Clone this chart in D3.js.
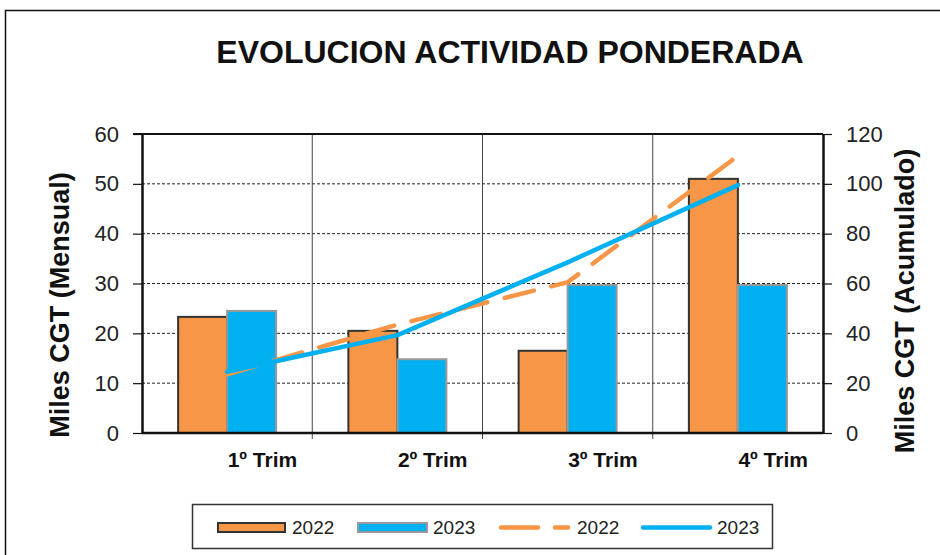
<!DOCTYPE html>
<html lang="es">
<head>
<meta charset="UTF-8">
<title>Evolucion actividad ponderada</title>
<script src="https://cdn.jsdelivr.net/npm/d3@7"></script>
<style>
    body { margin: 0; background: #fff; font-family: "Liberation Sans", Arial, sans-serif; }
    svg { display: block; }
</style>
</head>
<body>
<div id="chart"></div>
<script>
    // values
    const categories = ["1º Trim", "2º Trim", "3º Trim", "4º Trim"];
    const series = ["2022", "2023"];
    const mensual2022 = [23.3, 20.5, 16.5, 51.0];
    const mensual2023 = [24.5, 14.8, 29.7, 29.7];
    const acumulado2022 = [23.5, 43.5, 60.5, 111.2];
    const acumulado2023 = [24.6, 39.3, 68.5, 99.5];
    const leftTicks = [0, 10, 20, 30, 40, 50, 60];
    const rightTicks = [0, 20, 40, 60, 80, 100, 120];

    const W = 940, H = 555;
    const plot = { left: 142, right: 823, top: 134, bottom: 433 };
    const orange = "#F79646", blue = "#00B0F0";

    const svg = d3.select("#chart").append("svg")
        .attr("width", W).attr("height", H);

    // outer frame
    svg.append("rect")
        .attr("x", 5.5).attr("y", 10.5)
        .attr("width", 1000).attr("height", 700)
        .attr("fill", "#fff").attr("stroke", "#111").attr("stroke-width", 1.5);

    svg.append("text")
        .attr("x", 510).attr("y", 63)
        .attr("text-anchor", "middle")
        .attr("font-size", 32).attr("font-weight", "bold").attr("fill", "#111")
        .text("EVOLUCION ACTIVIDAD PONDERADA");

    const x = d3.scaleBand().domain(categories).range([plot.left, plot.right]);
    const barW = 49;
    const x1 = d3.scaleBand().domain(series)
        .range([x.bandwidth() / 2 - barW, x.bandwidth() / 2 + barW]);
    const yL = d3.scaleLinear().domain([0, 60]).range([plot.bottom, plot.top]);
    const yR = d3.scaleLinear().domain([0, 120]).range([plot.bottom, plot.top]);

    // horizontal dashed gridlines
    svg.append("g").selectAll("line")
        .data(leftTicks.filter(d => d > 0 && d < 60))
        .join("line")
        .attr("x1", plot.left).attr("x2", plot.right)
        .attr("y1", d => yL(d)).attr("y2", d => yL(d))
        .attr("stroke", "#222").attr("stroke-width", 1)
        .attr("stroke-dasharray", "3,2");

    // vertical category separators (extend below axis as ticks)
    svg.append("g").selectAll("line")
        .data(categories.slice(1))
        .join("line")
        .attr("x1", d => x(d)).attr("x2", d => x(d))
        .attr("y1", plot.top).attr("y2", plot.bottom + 6)
        .attr("stroke", "#444").attr("stroke-width", 1);

    // bars
    const rows = categories.map((c, i) => ({ cat: c, vals: [mensual2022[i], mensual2023[i]] }));
    svg.append("g").selectAll("g")
        .data(rows)
        .join("g")
        .attr("transform", d => `translate(${x(d.cat)},0)`)
        .selectAll("rect")
        .data(d => d.vals.map((v, j) => ({ key: series[j], v })))
        .join("rect")
        .attr("x", d => x1(d.key))
        .attr("width", x1.bandwidth())
        .attr("y", d => yL(d.v))
        .attr("height", d => yL(0) - yL(d.v))
        .attr("fill", d => d.key === "2022" ? orange : blue)
        .attr("stroke", d => d.key === "2022" ? "#333" : "#999")
        .attr("stroke-width", 2);

    // top border of plot
    svg.append("line")
        .attr("x1", plot.left - 9).attr("x2", plot.right)
        .attr("y1", plot.top).attr("y2", plot.top)
        .attr("stroke", "#111").attr("stroke-width", 2);

    // axes
    const axL = svg.append("g")
        .attr("transform", `translate(${plot.left},0)`)
        .call(d3.axisLeft(yL).tickValues(leftTicks).tickSize(9).tickSizeOuter(0).tickPadding(14));
    const axR = svg.append("g")
        .attr("transform", `translate(${plot.right},0)`)
        .call(d3.axisRight(yR).tickValues(rightTicks).tickSize(9).tickSizeOuter(0).tickPadding(14));
    [axL, axR].forEach(ax => {
        ax.select(".domain").attr("stroke", "#111").attr("stroke-width", 2.5);
        ax.selectAll(".tick line").attr("stroke", "#111").attr("stroke-width", 1.2);
        ax.selectAll(".tick text")
            .attr("font-family", "Liberation Sans, Arial, sans-serif")
            .attr("font-size", 22).attr("fill", "#222");
    });

    svg.append("line")
        .attr("x1", plot.left).attr("x2", plot.right)
        .attr("y1", plot.bottom).attr("y2", plot.bottom)
        .attr("stroke", "#111").attr("stroke-width", 2.5);

    // category labels
    svg.append("g").selectAll("text")
        .data(categories)
        .join("text")
        .attr("x", d => x(d) + x.bandwidth() / 2 + 0.5)
        .attr("y", 467)
        .attr("font-size", 21).attr("font-weight", "bold").attr("fill", "#111")
        .text(d => d);

    // axis titles
    svg.append("text")
        .attr("transform", "translate(69,305) rotate(-90)")
        .attr("text-anchor", "middle")
        .attr("font-size", 27).attr("font-weight", "bold").attr("fill", "#111")
        .text("Miles CGT (Mensual)");
    svg.append("text")
        .attr("transform", "translate(914,301) rotate(-90)")
        .attr("text-anchor", "middle")
        .attr("font-size", 27).attr("font-weight", "bold").attr("fill", "#111")
        .text("Miles CGT (Acumulado)");

    // cumulative lines
    const cx = c => x(c) + x.bandwidth() / 2;
    const line = d3.line().x(d => cx(d.cat)).y(d => yR(d.v));
    svg.append("path")
        .datum(categories.map((c, i) => ({ cat: c, v: acumulado2022[i] })))
        .attr("d", line)
        .attr("fill", "none").attr("stroke", orange).attr("stroke-width", 4.5)
        .attr("stroke-dasharray", "30,18").attr("stroke-linecap", "round");
    svg.append("path")
        .datum(categories.map((c, i) => ({ cat: c, v: acumulado2023[i] })))
        .attr("d", line)
        .attr("fill", "none").attr("stroke", blue).attr("stroke-width", 4.5)
        .attr("stroke-linecap", "round").attr("stroke-linejoin", "round");

    // legend
    const lg = svg.append("g");
    lg.append("rect")
        .attr("x", 192.5).attr("y", 504.5).attr("width", 580).attr("height", 44)
        .attr("fill", "#fff").attr("stroke", "#333").attr("stroke-width", 1.5);
    lg.append("rect").attr("x", 218).attr("y", 523).attr("width", 67).attr("height", 9)
        .attr("fill", orange).attr("stroke", "#333").attr("stroke-width", 2);
    lg.append("rect").attr("x", 358).attr("y", 523).attr("width", 69).attr("height", 9)
        .attr("fill", blue).attr("stroke", "#999").attr("stroke-width", 2);
    lg.append("line").attr("x1", 501).attr("x2", 568).attr("y1", 527.5).attr("y2", 527.5)
        .attr("stroke", orange).attr("stroke-width", 4.5).attr("stroke-linecap", "round")
        .attr("stroke-dasharray", "37,17");
    lg.append("line").attr("x1", 643).attr("x2", 710).attr("y1", 527.5).attr("y2", 527.5)
        .attr("stroke", blue).attr("stroke-width", 4.5).attr("stroke-linecap", "round");
    lg.selectAll("text.lbl")
        .data([{ x: 292, t: series[0] }, { x: 433, t: series[1] }, { x: 577, t: series[0] }, { x: 717, t: series[1] }])
        .join("text")
        .attr("class", "lbl")
        .attr("x", d => d.x).attr("y", 534)
        .attr("font-size", 19).attr("fill", "#222")
        .text(d => d.t);
</script>
</body>
</html>
